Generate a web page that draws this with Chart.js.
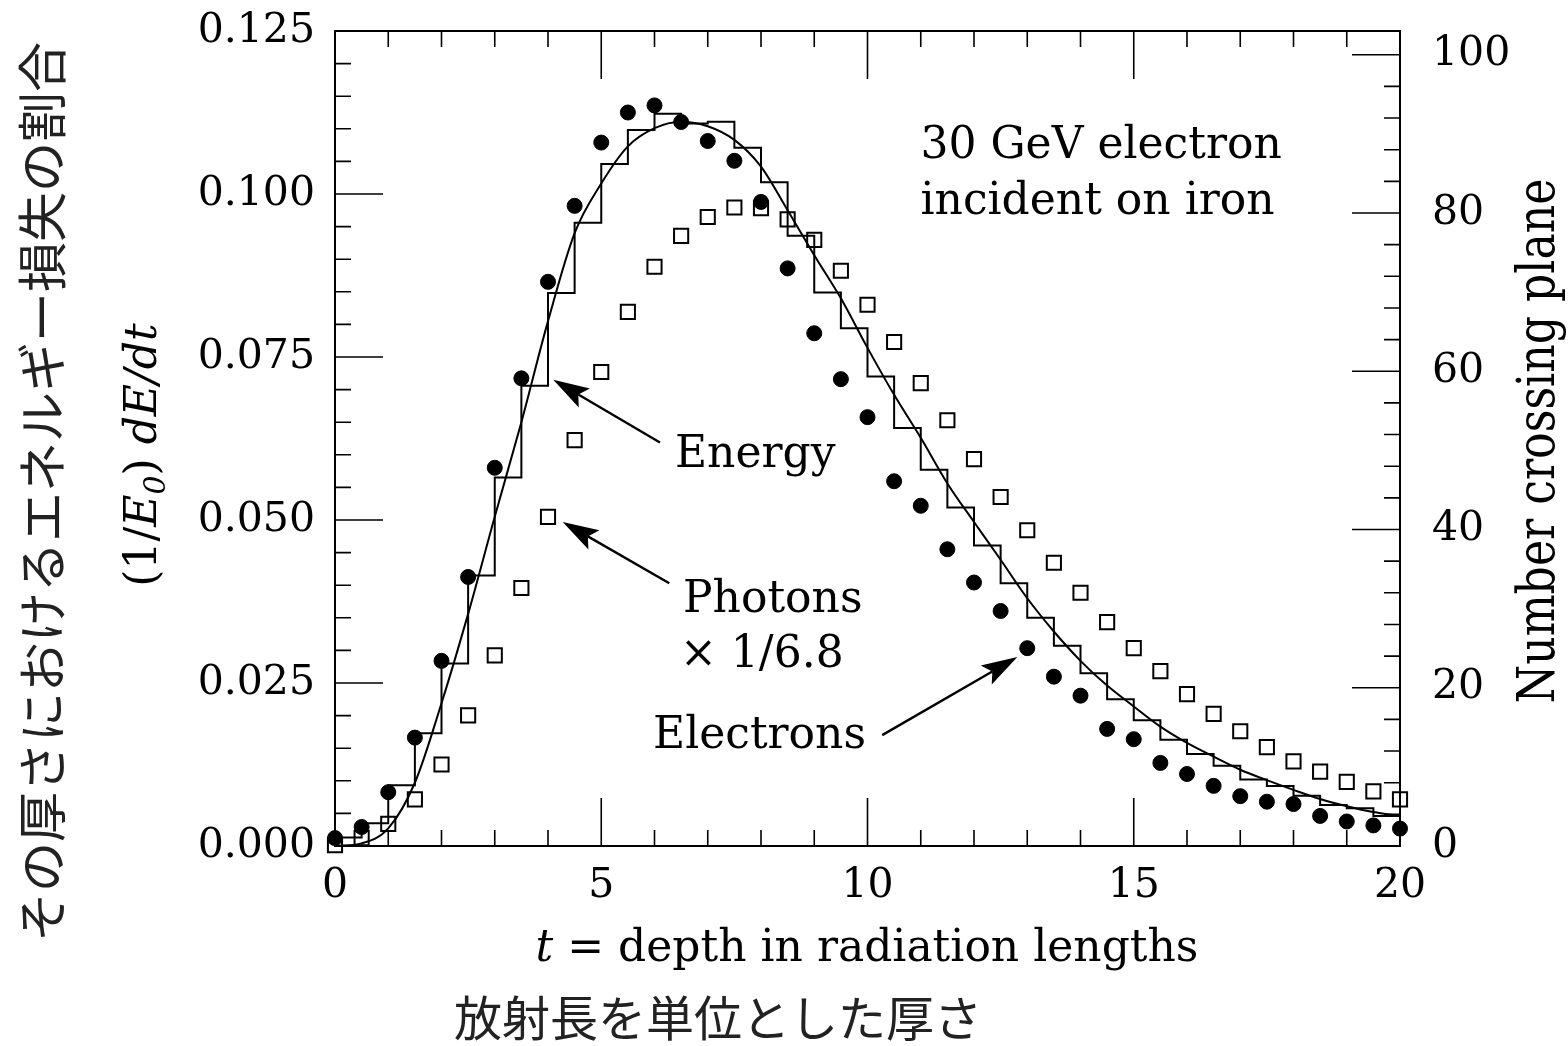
<!DOCTYPE html>
<html>
<head>
<meta charset="utf-8">
<script src="https://cdn.jsdelivr.net/npm/chart.js@4.4.1/dist/chart.umd.min.js"></script>
<style>
  html, body { margin: 0; padding: 0; background: #fff; }
  #wrap { width: 1568px; height: 1046px; }
</style>
</head>
<body>
<div id="wrap"><canvas id="shower" width="1568" height="1046"></canvas></div>
<script>
// depth t in radiation lengths (sampling planes every 0.5 X0)
const depth = [0, 0.5, 1, 1.5, 2, 2.5, 3, 3.5, 4, 4.5, 5, 5.5, 6, 6.5, 7, 7.5, 8, 8.5, 9, 9.5,
  10, 10.5, 11, 11.5, 12, 12.5, 13, 13.5, 14, 14.5, 15, 15.5, 16, 16.5, 17, 17.5, 18, 18.5, 19, 19.5, 20];

// (1/E0) dE/dt histogram, one value per 0.5 X0 bin starting at t = 0
const energyHist = [0.0013, 0.0035, 0.0093, 0.0173, 0.0280, 0.0415, 0.0565, 0.0706, 0.0848, 0.0956,
  0.1046, 0.1098, 0.1123, 0.1108, 0.1111, 0.1071, 0.1018, 0.0936, 0.0849, 0.0794,
  0.0720, 0.0641, 0.0577, 0.0519, 0.0461, 0.0403, 0.0350, 0.0307, 0.0265, 0.0225,
  0.0193, 0.0163, 0.0141, 0.0123, 0.0102, 0.0092, 0.0077, 0.0063, 0.0058, 0.0046];

// smooth fit through the energy deposit, read at each depth
const energyFit = [0, 0.0004, 0.0027, 0.0097, 0.0219, 0.0356, 0.0505, 0.0650, 0.0805, 0.0940,
  0.1016, 0.1073, 0.1101, 0.1111, 0.1104, 0.1083, 0.1042, 0.0975, 0.0906, 0.0840,
  0.0764, 0.0692, 0.0626, 0.0556, 0.0497, 0.0439, 0.0380, 0.0329, 0.0284, 0.0246,
  0.0214, 0.0183, 0.0158, 0.0137, 0.0117, 0.0101, 0.0086, 0.0072, 0.0061, 0.0052, 0.0046];

// number crossing plane (right axis)
const electrons = [1.0, 2.4, 6.8, 13.7, 23.4, 34.0, 47.8, 59.1, 71.3, 80.9,
  88.9, 92.7, 93.6, 91.5, 89.1, 86.6, 81.4, 73.0, 64.8, 59.0,
  54.2, 46.1, 43.0, 37.5, 33.3, 29.7, 25.0, 21.4, 19.0, 14.8,
  13.5, 10.5, 9.1, 7.6, 6.3, 5.6, 5.3, 3.8, 3.1, 2.6, 2.2];

const photons = [0.1, 1.0, 2.8, 5.9, 10.3, 16.5, 24.1, 32.6, 41.6, 51.3,
  59.9, 67.5, 73.2, 77.1, 79.5, 80.7, 80.6, 79.2, 76.6, 72.7,
  68.4, 63.7, 58.5, 53.8, 48.9, 44.1, 39.9, 35.8, 32.0, 28.3,
  25.0, 22.1, 19.2, 16.7, 14.5, 12.5, 10.7, 9.4, 8.1, 6.9, 5.9];

const xTickLabels = ['0', '5', '10', '15', '20'];
const leftTickLabels = ['0.000', '0.025', '0.050', '0.075', '0.100', '0.125'];
const rightTickLabels = ['0', '20', '40', '60', '80', '100'];

const serif = '"DejaVu Serif", serif';
const tickFont = { family: serif, size: 41 };

// histogram drawn as a stepped line: one point per bin start plus the closing edge at t = 20
const histPoints = energyHist.map((v, i) => ({ x: depth[i], y: v }));
histPoints.push({ x: depth[depth.length - 1], y: energyHist[energyHist.length - 1] });

// annotations, placed in data units (t, left axis)
const notes = [
  { text: 'Energy', t: 6.385, v: 0.0582 },
  { text: 'Photons', t: 6.535, v: 0.0359 },
  { text: '\u00d7 1/6.8', t: 6.479, v: 0.0275 },
  { text: 'Electrons', t: 5.972, v: 0.0150 },
  { text: '30 GeV electron', t: 10.995, v: 0.1055 },
  { text: 'incident on iron', t: 10.995, v: 0.0970 }
];
const arrows = [
  { from: [6.103, 0.0619], to: [4.099, 0.0715] },
  { from: [6.278, 0.0403], to: [4.276, 0.0497] },
  { from: [10.276, 0.0170], to: [12.815, 0.0290] }
];

function drawArrow(ctx, x1, y1, x2, y2) {
  const ang = Math.atan2(y2 - y1, x2 - x1);
  const len = 36, half = 11, notch = 7;
  ctx.beginPath();
  ctx.moveTo(x1, y1);
  ctx.lineTo(x2 - (len - notch) * Math.cos(ang), y2 - (len - notch) * Math.sin(ang));
  ctx.stroke();
  ctx.save();
  ctx.translate(x2, y2);
  ctx.rotate(ang);
  ctx.beginPath();
  ctx.moveTo(0, 0);
  ctx.lineTo(-len, -half);
  ctx.lineTo(-len + notch, 0);
  ctx.lineTo(-len, half);
  ctx.closePath();
  ctx.fill();
  ctx.restore();
}

function drawPieces(ctx, pieces, x0, y0) {
  let x = x0;
  pieces.forEach(p => {
    ctx.font = p.font;
    ctx.fillText(p.s, x, y0 + (p.dy || 0));
    x += ctx.measureText(p.s).width;
  });
}
function piecesWidth(ctx, pieces) {
  return pieces.reduce((w, p) => { ctx.font = p.font; return w + ctx.measureText(p.s).width; }, 0);
}

// keep the plot frame where the figure has it, not pushed down by tick-label padding
function noLabelPadding(s) {
  s.paddingTop = 0;
  s.paddingBottom = 0;
}

const framePlugin = {
  id: 'frame',
  beforeDatasetsDraw(chart) {
    const { ctx, chartArea: a, scales: { x, yE, yN } } = chart;
    ctx.save();
    ctx.strokeStyle = '#000';
    ctx.lineWidth = 1.6;
    ctx.beginPath();
    for (let t = 0; t <= 20; t++) {
      const px = x.getPixelForValue(t);
      const L = t % 5 === 0 ? 48 : 16;
      ctx.moveTo(px, a.bottom); ctx.lineTo(px, a.bottom - L);
      ctx.moveTo(px, a.top); ctx.lineTo(px, a.top + L);
    }
    for (let k = 0; k <= 25; k++) {
      const py = yE.getPixelForValue(k * 0.005);
      const L = k % 5 === 0 ? 48 : 16;
      ctx.moveTo(a.left, py); ctx.lineTo(a.left + L, py);
    }
    for (let k = 0; k <= 25; k++) {
      const py = yN.getPixelForValue(k * 4);
      const L = k % 5 === 0 ? 48 : 16;
      ctx.moveTo(a.right, py); ctx.lineTo(a.right - L, py);
    }
    ctx.stroke();
    ctx.lineWidth = 2;
    ctx.strokeRect(a.left, a.top, a.right - a.left, a.bottom - a.top);
    ctx.restore();
  },
  afterDraw(chart) {
    const { ctx, scales: { x, yE } } = chart;
    ctx.save();
    ctx.fillStyle = '#000';
    ctx.strokeStyle = '#000';
    ctx.lineWidth = 2.4;

    // annotations
    ctx.font = '44px ' + serif;
    ctx.textAlign = 'left';
    ctx.textBaseline = 'alphabetic';
    notes.forEach(n => ctx.fillText(n.text, x.getPixelForValue(n.t), yE.getPixelForValue(n.v)));
    arrows.forEach(ar => drawArrow(ctx,
      x.getPixelForValue(ar.from[0]), yE.getPixelForValue(ar.from[1]),
      x.getPixelForValue(ar.to[0]), yE.getPixelForValue(ar.to[1])));

    // bottom title
    const bottom = [
      { s: 't', font: 'italic 44px ' + serif },
      { s: ' = depth in radiation lengths', font: '44px ' + serif }
    ];
    let w = piecesWidth(ctx, bottom);
    drawPieces(ctx, bottom, 867 - w / 2, 961);

    // inner left title, rotated
    const left = [
      { s: '(1/', font: '44px ' + serif },
      { s: 'E', font: 'italic 44px ' + serif },
      { s: '0', font: 'italic 30px ' + serif, dy: 9 },
      { s: ')', font: '44px ' + serif },
      { s: ' dE/dt', font: 'italic 44px ' + serif }
    ];
    ctx.save();
    ctx.translate(156, 455);
    ctx.rotate(-Math.PI / 2);
    w = piecesWidth(ctx, left);
    drawPieces(ctx, left, -w / 2, 0);
    ctx.restore();

    // right title: narrow serif look, squeezed to the length it has in the figure
    const rightTitle = 'Number crossing plane';
    ctx.font = '52px ' + serif;
    const squeeze = Math.min(1, 525 / ctx.measureText(rightTitle).width);
    ctx.save();
    ctx.translate(1554, 441);
    ctx.rotate(-Math.PI / 2);
    ctx.scale(squeeze, 1);
    ctx.textAlign = 'center';
    ctx.fillText(rightTitle, 0, 0);
    ctx.restore();

    // Japanese titles
    ctx.fillStyle = '#222';
    ctx.textAlign = 'center';
    ctx.textBaseline = 'middle';
    ctx.font = '48px "Noto Sans CJK JP", sans-serif';
    ctx.fillText('放射長を単位とした厚さ', 718, 1018);
    ctx.save();
    ctx.translate(42, 492);
    ctx.rotate(-Math.PI / 2);
    ctx.font = '50px "Noto Sans CJK JP", sans-serif';
    ctx.fillText('その厚さにおけるエネルギー損失の割合', 0, 0);
    ctx.restore();

    ctx.restore();
  }
};

new Chart(document.getElementById('shower'), {
  type: 'line',
  data: {
    datasets: [
      {
        label: 'Electrons',
        data: depth.map((t, i) => ({ x: t, y: electrons[i] })),
        yAxisID: 'yN',
        showLine: false,
        pointStyle: 'circle',
        pointRadius: 7.5,
        pointBackgroundColor: '#000',
        pointBorderColor: '#000',
        pointBorderWidth: 1,
        clip: false,
        order: 0
      },
      {
        label: 'Photons x 1/6.8',
        data: depth.map((t, i) => ({ x: t, y: photons[i] })),
        yAxisID: 'yN',
        showLine: false,
        pointStyle: 'rect',
        pointRadius: 10,
        pointBackgroundColor: 'rgba(0,0,0,0)',
        pointBorderColor: '#000',
        pointBorderWidth: 2,
        clip: false,
        order: 1
      },
      {
        label: 'Energy fit',
        data: depth.map((t, i) => ({ x: t, y: energyFit[i] })),
        yAxisID: 'yE',
        borderColor: '#000',
        borderWidth: 2,
        pointRadius: 0,
        cubicInterpolationMode: 'monotone',
        fill: false,
        order: 2
      },
      {
        label: 'Energy deposit',
        data: histPoints,
        yAxisID: 'yE',
        stepped: true,
        borderColor: '#000',
        borderWidth: 2,
        pointRadius: 0,
        fill: false,
        order: 3
      }
    ]
  },
  options: {
    responsive: false,
    animation: false,
    devicePixelRatio: 1,
    layout: { padding: { top: 31, left: 0, right: 0, bottom: 0 } },
    plugins: {
      legend: { display: false },
      tooltip: { enabled: false }
    },
    scales: {
      x: {
        type: 'linear',
        min: 0,
        max: 20,
        grid: { display: false, drawTicks: false },
        border: { display: false },
        ticks: {
          font: tickFont, color: '#000', padding: 16, maxRotation: 0, autoSkip: false,
          callback: (v, i) => xTickLabels[i]
        },
        afterBuildTicks: s => { s.ticks = xTickLabels.map(l => ({ value: parseFloat(l) })); },
        afterFit: s => { s.height = 200; }
      },
      yE: {
        type: 'linear',
        position: 'left',
        min: 0,
        max: 0.125,
        grid: { display: false, drawTicks: false },
        border: { display: false },
        ticks: {
          font: tickFont, color: '#000', padding: 20,
          callback: (v, i) => leftTickLabels[i]
        },
        afterBuildTicks: s => { s.ticks = leftTickLabels.map(l => ({ value: parseFloat(l) })); },
        afterFit: s => { s.width = 335; noLabelPadding(s); }
      },
      yN: {
        type: 'linear',
        position: 'right',
        min: 0,
        max: 103,
        grid: { display: false, drawTicks: false },
        border: { display: false },
        ticks: {
          font: tickFont, color: '#000', padding: 32, crossAlign: 'near',
          callback: (v, i) => rightTickLabels[i]
        },
        afterBuildTicks: s => { s.ticks = rightTickLabels.map(l => ({ value: parseFloat(l) })); },
        afterFit: s => { s.width = 168; noLabelPadding(s); }
      }
    }
  },
  plugins: [framePlugin]
});
</script>
</body>
</html>
